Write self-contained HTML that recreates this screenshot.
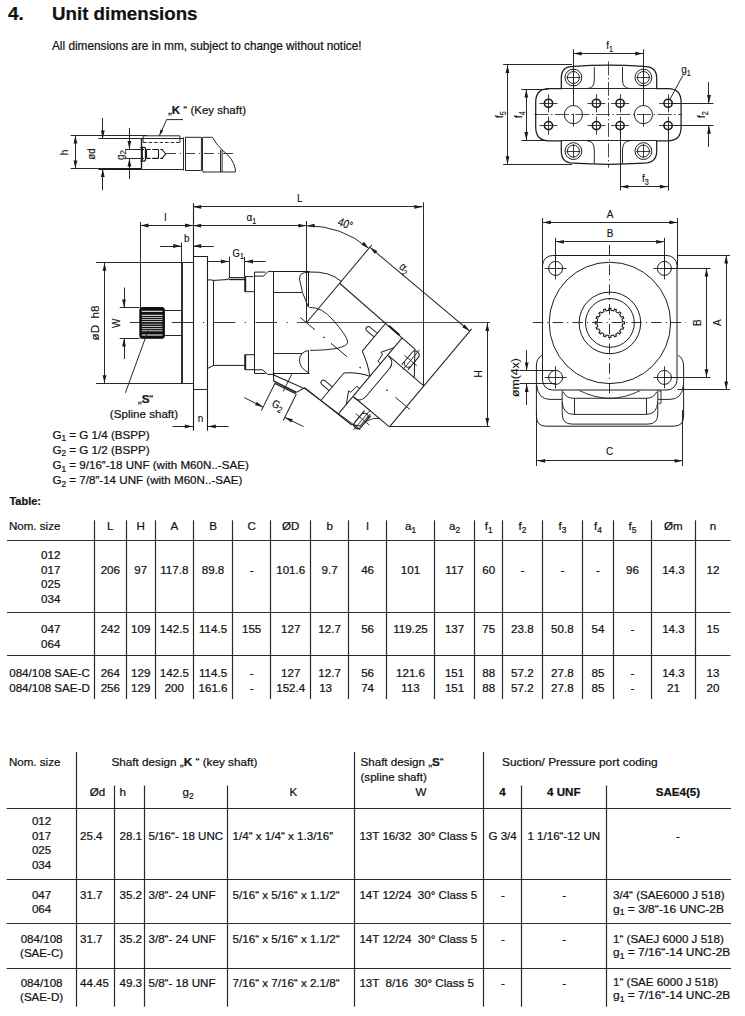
<!DOCTYPE html><html><head><meta charset="utf-8"><style>html,body{margin:0;padding:0;background:#fff;width:745px;height:1016px;overflow:hidden}svg{display:block;font-family:"Liberation Sans",sans-serif}text{white-space:pre;stroke:#111;stroke-width:0.22px}</style></head><body>
<svg width="745" height="1016" viewBox="0 0 745 1016">
<text xml:space="preserve" x="8.00" y="20.00" font-size="19" text-anchor="start" font-weight="bold" fill="#111">4.</text>
<text xml:space="preserve" x="52.00" y="20.00" font-size="19" text-anchor="start" font-weight="bold" fill="#111" textLength="145.50" lengthAdjust="spacingAndGlyphs">Unit dimensions</text>
<text xml:space="preserve" x="52.00" y="50.00" font-size="11.9" text-anchor="start" font-weight="normal" fill="#111" textLength="309.50" lengthAdjust="spacingAndGlyphs">All dimensions are in mm, subject to change without notice!</text>
<line x1="70.70" y1="135.50" x2="147.00" y2="135.50" stroke="#1c1c1c" stroke-width="0.95" />
<line x1="70.70" y1="168.50" x2="98.30" y2="168.50" stroke="#1c1c1c" stroke-width="0.95" />
<line x1="98.30" y1="169.00" x2="141.20" y2="169.00" stroke="#1c1c1c" stroke-width="1.8" />
<line x1="98.30" y1="138.50" x2="141.20" y2="138.50" stroke="#1c1c1c" stroke-width="0.95" />
<line x1="75.50" y1="135.20" x2="75.50" y2="168.80" stroke="#1c1c1c" stroke-width="0.95" />
<polygon points="75.40,135.40 77.30,143.40 73.50,143.40" fill="#1c1c1c"/>
<polygon points="75.40,168.60 73.50,160.60 77.30,160.60" fill="#1c1c1c"/>
<text xml:space="preserve" x="68.00" y="152.50" font-size="11.6" text-anchor="middle" font-weight="normal" fill="#111" transform="rotate(-90 68.00 152.50) translate(68.00 152.50) scale(0.86 1) translate(-68.00 -152.50)" style="stroke-width:0.14px">h</text>
<line x1="102.50" y1="118.00" x2="102.50" y2="138.60" stroke="#1c1c1c" stroke-width="0.95" />
<polygon points="102.80,138.40 100.90,130.40 104.70,130.40" fill="#1c1c1c"/>
<line x1="102.50" y1="168.80" x2="102.50" y2="190.30" stroke="#1c1c1c" stroke-width="0.95" />
<polygon points="102.80,169.00 104.70,177.00 100.90,177.00" fill="#1c1c1c"/>
<text xml:space="preserve" x="95.00" y="154.00" font-size="11.4" text-anchor="middle" font-weight="normal" fill="#111" transform="rotate(-90 95.00 154.00) translate(95.00 154.00) scale(0.86 1) translate(-95.00 -154.00)" style="stroke-width:0.14px">ød</text>
<line x1="141.50" y1="138.60" x2="141.50" y2="168.80" stroke="#1c1c1c" stroke-width="1.4" />
<line x1="125.10" y1="149.50" x2="144.00" y2="149.50" stroke="#1c1c1c" stroke-width="0.95" />
<line x1="125.10" y1="158.50" x2="144.00" y2="158.50" stroke="#1c1c1c" stroke-width="0.95" />
<line x1="129.50" y1="128.00" x2="129.50" y2="149.20" stroke="#1c1c1c" stroke-width="0.95" />
<polygon points="129.40,149.00 127.50,141.00 131.30,141.00" fill="#1c1c1c"/>
<line x1="129.50" y1="158.30" x2="129.50" y2="179.00" stroke="#1c1c1c" stroke-width="0.95" />
<polygon points="129.40,158.50 131.30,166.50 127.50,166.50" fill="#1c1c1c"/>
<text xml:space="preserve" x="124.00" y="155.00" font-size="11.6" text-anchor="middle" font-weight="normal" fill="#111" transform="rotate(-90 124.00 155.00) translate(124.00 155.00) scale(0.86 1) translate(-124.00 -155.00)" style="stroke-width:0.14px">g<tspan font-size="9.5" dy="2">2</tspan></text>
<path d="M140.5,147.3 L144.5,147.3 L145.5,148.5 L145.5,160 L144.5,161.2 L140.5,161.2" fill="none" stroke="#1c1c1c" stroke-width="1.3" />
<line x1="142.50" y1="147.50" x2="142.50" y2="161.00" stroke="#1c1c1c" stroke-width="0.9" />
<path d="M146.6,149.5 L150.6,149.5 M152.2,149.5 L158.6,149.5 M160.3,149.5 L163,149.5" fill="none" stroke="#1c1c1c" stroke-width="1.2" />
<path d="M146.6,158.4 L150.6,158.4 M152.2,158.4 L158.6,158.4 M160.3,158.4 L163,158.4" fill="none" stroke="#1c1c1c" stroke-width="1.2" />
<line x1="146.50" y1="149.50" x2="146.50" y2="158.40" stroke="#1c1c1c" stroke-width="1.1" />
<line x1="158.50" y1="149.50" x2="158.50" y2="158.40" stroke="#1c1c1c" stroke-width="1.1" />
<path d="M162,149.5 L165.8,153.9 L162,158.4" fill="none" stroke="#1c1c1c" stroke-width="1.1" />
<line x1="141.20" y1="138.50" x2="183.70" y2="138.50" stroke="#1c1c1c" stroke-width="0.95" />
<line x1="141.20" y1="169.50" x2="183.70" y2="169.50" stroke="#1c1c1c" stroke-width="0.95" />
<path d="M143.1,142.5 L143.1,135.8 L180,135.8 L180,142.5" fill="none" stroke="#1c1c1c" stroke-width="0.95" />
<line x1="143.10" y1="142.50" x2="180.00" y2="142.50" stroke="#1c1c1c" stroke-width="0.95" stroke-dasharray="3.5 2"/>
<polyline points="159.40,135.60 166.70,119.60 183.00,119.60" fill="none" stroke="#1c1c1c" stroke-width="0.95"/>
<polygon points="159.40,135.60 160.49,129.51 163.23,130.74" fill="#1c1c1c"/>
<text xml:space="preserve" x="168.00" y="114.00" font-size="11.8" text-anchor="start" font-weight="normal" fill="#111" textLength="78.00" lengthAdjust="spacingAndGlyphs">„<tspan font-weight="bold">K</tspan> “ (Key shaft)</text>
<line x1="183.50" y1="137.30" x2="183.50" y2="170.50" stroke="#1c1c1c" stroke-width="0.95" />
<line x1="185.50" y1="137.30" x2="185.50" y2="170.50" stroke="#1c1c1c" stroke-width="0.95" />
<path d="M185.2,137.3 L201.4,137.3 L201.4,170.5 L185.2,170.5" fill="none" stroke="#1c1c1c" stroke-width="0.95" />
<line x1="202.50" y1="137.30" x2="202.50" y2="170.50" stroke="#1c1c1c" stroke-width="0.95" />
<path d="M202.9,137.3 L212.5,137.3 Q216,144 222.1,149.9 L222.1,172 L202.9,172 L202.9,170.5" fill="none" stroke="#1c1c1c" stroke-width="0.95" />
<line x1="220.50" y1="149.90" x2="220.50" y2="172.00" stroke="#1c1c1c" stroke-width="0.95" />
<path d="M222.1,149.9 Q233,158 235.4,169 L235.4,172 L222.1,172" fill="none" stroke="#1c1c1c" stroke-width="0.95" />
<line x1="166.00" y1="153.50" x2="236.00" y2="153.50" stroke="#1c1c1c" stroke-width="0.85" stroke-dasharray="10 4 1 4"/>
<path d="M561.3,88.5 L549,88.5 Q535.7,88.5 535.7,102 L535.7,127 Q535.7,140.8 549,140.8 L561.3,140.8 L561.3,151 Q561.3,163.2 573.4,163.2 Q608.4,165.3 643.4,163.2 Q656.7,163.2 656.7,151 L656.7,140.8 L668,140.8 Q681.1,140.8 681.1,127 L681.1,102 Q681.1,88.5 668,88.5 L656.7,88.5 L656.7,78 Q656.7,66.3 643.4,66.3 Q608.4,63.7 573.4,66.3 Q561.3,66.3 561.3,78 Z" fill="none" stroke="#1c1c1c" stroke-width="1.25" />
<path d="M594.3,67 L594.3,80 Q594.3,88.5 587,88.5" fill="none" stroke="#1c1c1c" stroke-width="0.95" />
<path d="M622.5,67 L622.5,80 Q622.5,88.5 630,88.5" fill="none" stroke="#1c1c1c" stroke-width="0.95" />
<path d="M594.3,163.5 L594.3,150 Q594.3,140.8 587,140.8" fill="none" stroke="#1c1c1c" stroke-width="0.95" />
<path d="M622.5,163.5 L622.5,150 Q622.5,140.8 630,140.8" fill="none" stroke="#1c1c1c" stroke-width="0.95" />
<line x1="561.30" y1="88.50" x2="656.70" y2="88.50" stroke="#1c1c1c" stroke-width="0.95" />
<line x1="561.30" y1="140.50" x2="656.70" y2="140.50" stroke="#1c1c1c" stroke-width="0.95" />
<circle cx="573.40" cy="77.50" r="8.40" fill="none" stroke="#1c1c1c" stroke-width="1.0"/>
<circle cx="573.40" cy="77.50" r="6.00" fill="none" stroke="#1c1c1c" stroke-width="0.95"/>
<line x1="566.40" y1="77.50" x2="580.40" y2="77.50" stroke="#1c1c1c" stroke-width="0.85" />
<line x1="573.50" y1="70.50" x2="573.50" y2="84.50" stroke="#1c1c1c" stroke-width="0.85" />
<circle cx="643.40" cy="77.50" r="8.40" fill="none" stroke="#1c1c1c" stroke-width="1.0"/>
<circle cx="643.40" cy="77.50" r="6.00" fill="none" stroke="#1c1c1c" stroke-width="0.95"/>
<line x1="636.40" y1="77.50" x2="650.40" y2="77.50" stroke="#1c1c1c" stroke-width="0.85" />
<line x1="643.50" y1="70.50" x2="643.50" y2="84.50" stroke="#1c1c1c" stroke-width="0.85" />
<circle cx="573.40" cy="151.10" r="8.40" fill="none" stroke="#1c1c1c" stroke-width="1.0"/>
<circle cx="573.40" cy="151.10" r="6.00" fill="none" stroke="#1c1c1c" stroke-width="0.95"/>
<line x1="566.40" y1="151.50" x2="580.40" y2="151.50" stroke="#1c1c1c" stroke-width="0.85" />
<line x1="573.50" y1="144.10" x2="573.50" y2="158.10" stroke="#1c1c1c" stroke-width="0.85" />
<circle cx="643.40" cy="151.10" r="8.40" fill="none" stroke="#1c1c1c" stroke-width="1.0"/>
<circle cx="643.40" cy="151.10" r="6.00" fill="none" stroke="#1c1c1c" stroke-width="0.95"/>
<line x1="636.40" y1="151.50" x2="650.40" y2="151.50" stroke="#1c1c1c" stroke-width="0.85" />
<line x1="643.50" y1="144.10" x2="643.50" y2="158.10" stroke="#1c1c1c" stroke-width="0.85" />
<circle cx="573.40" cy="114.60" r="9.10" fill="none" stroke="#1c1c1c" stroke-width="0.95"/>
<circle cx="643.40" cy="114.60" r="9.10" fill="none" stroke="#1c1c1c" stroke-width="0.95"/>
<circle cx="548.50" cy="103.30" r="4.10" fill="none" stroke="#1c1c1c" stroke-width="1.6"/>
<line x1="539.50" y1="103.50" x2="557.50" y2="103.50" stroke="#1c1c1c" stroke-width="0.85" />
<line x1="548.50" y1="94.30" x2="548.50" y2="112.30" stroke="#1c1c1c" stroke-width="0.85" />
<circle cx="548.50" cy="125.60" r="4.10" fill="none" stroke="#1c1c1c" stroke-width="1.6"/>
<line x1="539.50" y1="125.50" x2="557.50" y2="125.50" stroke="#1c1c1c" stroke-width="0.85" />
<line x1="548.50" y1="116.60" x2="548.50" y2="134.60" stroke="#1c1c1c" stroke-width="0.85" />
<circle cx="596.40" cy="103.30" r="4.10" fill="none" stroke="#1c1c1c" stroke-width="1.6"/>
<line x1="587.40" y1="103.50" x2="605.40" y2="103.50" stroke="#1c1c1c" stroke-width="0.85" />
<line x1="596.50" y1="94.30" x2="596.50" y2="112.30" stroke="#1c1c1c" stroke-width="0.85" />
<circle cx="596.40" cy="125.60" r="4.10" fill="none" stroke="#1c1c1c" stroke-width="1.6"/>
<line x1="587.40" y1="125.50" x2="605.40" y2="125.50" stroke="#1c1c1c" stroke-width="0.85" />
<line x1="596.50" y1="116.60" x2="596.50" y2="134.60" stroke="#1c1c1c" stroke-width="0.85" />
<circle cx="620.10" cy="103.30" r="4.10" fill="none" stroke="#1c1c1c" stroke-width="1.6"/>
<line x1="611.10" y1="103.50" x2="629.10" y2="103.50" stroke="#1c1c1c" stroke-width="0.85" />
<line x1="620.50" y1="94.30" x2="620.50" y2="112.30" stroke="#1c1c1c" stroke-width="0.85" />
<circle cx="620.10" cy="125.60" r="4.10" fill="none" stroke="#1c1c1c" stroke-width="1.6"/>
<line x1="611.10" y1="125.50" x2="629.10" y2="125.50" stroke="#1c1c1c" stroke-width="0.85" />
<line x1="620.50" y1="116.60" x2="620.50" y2="134.60" stroke="#1c1c1c" stroke-width="0.85" />
<circle cx="668.10" cy="103.30" r="4.10" fill="none" stroke="#1c1c1c" stroke-width="1.6"/>
<line x1="659.10" y1="103.50" x2="677.10" y2="103.50" stroke="#1c1c1c" stroke-width="0.85" />
<line x1="668.50" y1="94.30" x2="668.50" y2="112.30" stroke="#1c1c1c" stroke-width="0.85" />
<circle cx="668.10" cy="125.60" r="4.10" fill="none" stroke="#1c1c1c" stroke-width="1.6"/>
<line x1="659.10" y1="125.50" x2="677.10" y2="125.50" stroke="#1c1c1c" stroke-width="0.85" />
<line x1="668.50" y1="116.60" x2="668.50" y2="134.60" stroke="#1c1c1c" stroke-width="0.85" />
<line x1="534.50" y1="114.50" x2="682.00" y2="114.50" stroke="#1c1c1c" stroke-width="0.8" stroke-dasharray="14 2.5 1.5 2.5"/>
<line x1="608.50" y1="61.40" x2="608.50" y2="167.80" stroke="#1c1c1c" stroke-width="0.8" stroke-dasharray="14 2.5 1.5 2.5"/>
<line x1="573.50" y1="49.20" x2="573.50" y2="105.50" stroke="#1c1c1c" stroke-width="0.95" />
<line x1="643.50" y1="49.20" x2="643.50" y2="105.50" stroke="#1c1c1c" stroke-width="0.95" />
<line x1="573.50" y1="113.60" x2="573.50" y2="126.60" stroke="#1c1c1c" stroke-width="0.9" />
<line x1="643.50" y1="113.60" x2="643.50" y2="126.60" stroke="#1c1c1c" stroke-width="0.9" />
<line x1="573.40" y1="53.50" x2="643.40" y2="53.50" stroke="#1c1c1c" stroke-width="0.95" />
<polygon points="573.60,53.60 581.60,51.70 581.60,55.50" fill="#1c1c1c"/>
<polygon points="643.20,53.60 635.20,55.50 635.20,51.70" fill="#1c1c1c"/>
<text xml:space="preserve" x="609.60" y="49.20" font-size="11.6" text-anchor="middle" font-weight="normal" fill="#111" transform="translate(609.60 49.20) scale(0.86 1) translate(-609.60 -49.20)" style="stroke-width:0.14px">f<tspan font-size="8.4" dy="3">1</tspan><tspan dy="-3"></tspan></text>
<line x1="503.10" y1="64.50" x2="572.00" y2="64.50" stroke="#1c1c1c" stroke-width="0.95" />
<line x1="503.10" y1="164.50" x2="572.00" y2="164.50" stroke="#1c1c1c" stroke-width="0.95" />
<line x1="507.50" y1="64.90" x2="507.50" y2="164.40" stroke="#1c1c1c" stroke-width="0.95" />
<polygon points="507.50,65.10 509.40,73.10 505.60,73.10" fill="#1c1c1c"/>
<polygon points="507.50,164.20 505.60,156.20 509.40,156.20" fill="#1c1c1c"/>
<text xml:space="preserve" x="503.00" y="114.60" font-size="11.6" text-anchor="middle" font-weight="normal" fill="#111" transform="rotate(-90 503.00 114.60) translate(503.00 114.60) scale(0.86 1) translate(-503.00 -114.60)" style="stroke-width:0.14px">f<tspan font-size="8.4" dy="3">5</tspan><tspan dy="-3"></tspan></text>
<line x1="521.40" y1="89.50" x2="548.00" y2="89.50" stroke="#1c1c1c" stroke-width="0.95" />
<line x1="521.40" y1="140.50" x2="548.00" y2="140.50" stroke="#1c1c1c" stroke-width="0.95" />
<line x1="526.50" y1="89.30" x2="526.50" y2="140.30" stroke="#1c1c1c" stroke-width="0.95" />
<polygon points="526.30,89.50 528.20,97.50 524.40,97.50" fill="#1c1c1c"/>
<polygon points="526.30,140.10 524.40,132.10 528.20,132.10" fill="#1c1c1c"/>
<text xml:space="preserve" x="522.00" y="114.60" font-size="11.6" text-anchor="middle" font-weight="normal" fill="#111" transform="rotate(-90 522.00 114.60) translate(522.00 114.60) scale(0.86 1) translate(-522.00 -114.60)" style="stroke-width:0.14px">f<tspan font-size="8.4" dy="3">4</tspan><tspan dy="-3"></tspan></text>
<line x1="672.00" y1="103.50" x2="713.40" y2="103.50" stroke="#1c1c1c" stroke-width="0.95" />
<line x1="672.00" y1="125.50" x2="713.40" y2="125.50" stroke="#1c1c1c" stroke-width="0.95" />
<line x1="708.50" y1="82.30" x2="708.50" y2="103.30" stroke="#1c1c1c" stroke-width="0.95" />
<polygon points="709.00,103.10 707.10,95.10 710.90,95.10" fill="#1c1c1c"/>
<line x1="708.50" y1="125.60" x2="708.50" y2="146.90" stroke="#1c1c1c" stroke-width="0.95" />
<polygon points="709.00,125.80 710.90,133.80 707.10,133.80" fill="#1c1c1c"/>
<text xml:space="preserve" x="705.00" y="114.60" font-size="11.6" text-anchor="middle" font-weight="normal" fill="#111" transform="rotate(-90 705.00 114.60) translate(705.00 114.60) scale(0.86 1) translate(-705.00 -114.60)" style="stroke-width:0.14px">f<tspan font-size="8.4" dy="3">2</tspan><tspan dy="-3"></tspan></text>
<line x1="620.50" y1="125.60" x2="620.50" y2="190.50" stroke="#1c1c1c" stroke-width="0.95" />
<line x1="668.50" y1="125.60" x2="668.50" y2="190.50" stroke="#1c1c1c" stroke-width="0.95" />
<line x1="620.10" y1="186.50" x2="668.10" y2="186.50" stroke="#1c1c1c" stroke-width="0.95" />
<polygon points="620.30,186.70 628.30,184.80 628.30,188.60" fill="#1c1c1c"/>
<polygon points="667.90,186.70 659.90,188.60 659.90,184.80" fill="#1c1c1c"/>
<text xml:space="preserve" x="645.40" y="181.80" font-size="11.6" text-anchor="middle" font-weight="normal" fill="#111" transform="translate(645.40 181.80) scale(0.86 1) translate(-645.40 -181.80)" style="stroke-width:0.14px">f<tspan font-size="8.4" dy="3">3</tspan><tspan dy="-3"></tspan></text>
<line x1="669.50" y1="100.00" x2="682.90" y2="75.40" stroke="#1c1c1c" stroke-width="0.95" />
<text xml:space="preserve" x="686.00" y="72.80" font-size="11.6" text-anchor="middle" font-weight="normal" fill="#111" transform="translate(686.00 72.80) scale(0.86 1) translate(-686.00 -72.80)" style="stroke-width:0.14px">g<tspan font-size="8.4" dy="3">1</tspan><tspan dy="-3"></tspan></text>
<line x1="193.50" y1="203.20" x2="193.50" y2="256.50" stroke="#1c1c1c" stroke-width="1.1" />
<line x1="193.00" y1="206.50" x2="422.50" y2="206.50" stroke="#1c1c1c" stroke-width="0.95" />
<polygon points="193.20,206.90 201.20,205.00 201.20,208.80" fill="#1c1c1c"/>
<polygon points="422.30,206.90 414.30,208.80 414.30,205.00" fill="#1c1c1c"/>
<line x1="423.50" y1="202.20" x2="423.50" y2="386.00" stroke="#1c1c1c" stroke-width="0.95" />
<text xml:space="preserve" x="299.80" y="202.20" font-size="11.6" text-anchor="middle" font-weight="normal" fill="#111" transform="translate(299.80 202.20) scale(0.86 1) translate(-299.80 -202.20)" style="stroke-width:0.14px">L</text>
<line x1="193.00" y1="225.50" x2="306.50" y2="225.50" stroke="#1c1c1c" stroke-width="0.95" />
<polygon points="193.20,225.70 201.20,223.80 201.20,227.60" fill="#1c1c1c"/>
<polygon points="306.30,225.70 298.30,227.60 298.30,223.80" fill="#1c1c1c"/>
<line x1="306.50" y1="221.00" x2="306.50" y2="322.70" stroke="#1c1c1c" stroke-width="0.95" />
<text xml:space="preserve" x="251.50" y="221.50" font-size="11.6" text-anchor="middle" font-weight="normal" fill="#111" transform="translate(251.50 221.50) scale(0.86 1) translate(-251.50 -221.50)" style="stroke-width:0.14px">α<tspan font-size="8.4" dy="3">1</tspan><tspan dy="-3"></tspan></text>
<line x1="140.50" y1="222.00" x2="140.50" y2="307.80" stroke="#1c1c1c" stroke-width="0.95" />
<line x1="140.10" y1="225.50" x2="193.00" y2="225.50" stroke="#1c1c1c" stroke-width="0.95" />
<polygon points="140.50,225.50 148.50,223.60 148.50,227.40" fill="#1c1c1c"/>
<polygon points="193.00,225.50 185.00,227.40 185.00,223.60" fill="#1c1c1c"/>
<text xml:space="preserve" x="165.40" y="221.50" font-size="11.6" text-anchor="middle" font-weight="normal" fill="#111" transform="translate(165.40 221.50) scale(0.86 1) translate(-165.40 -221.50)" style="stroke-width:0.14px">l</text>
<line x1="181.50" y1="242.60" x2="181.50" y2="262.40" stroke="#1c1c1c" stroke-width="0.95" />
<line x1="160.00" y1="246.50" x2="181.40" y2="246.50" stroke="#1c1c1c" stroke-width="0.95" />
<polygon points="181.20,246.00 173.20,247.90 173.20,244.10" fill="#1c1c1c"/>
<line x1="193.00" y1="246.50" x2="213.70" y2="246.50" stroke="#1c1c1c" stroke-width="0.95" />
<polygon points="193.20,246.00 201.20,244.10 201.20,247.90" fill="#1c1c1c"/>
<text xml:space="preserve" x="186.80" y="241.70" font-size="11.6" text-anchor="middle" font-weight="normal" fill="#111" transform="translate(186.80 241.70) scale(0.86 1) translate(-186.80 -241.70)" style="stroke-width:0.14px">b</text>
<line x1="96.00" y1="262.50" x2="193.00" y2="262.50" stroke="#1c1c1c" stroke-width="0.95" />
<line x1="96.00" y1="383.50" x2="193.00" y2="383.50" stroke="#1c1c1c" stroke-width="0.95" />
<line x1="104.50" y1="262.40" x2="104.50" y2="383.30" stroke="#1c1c1c" stroke-width="0.95" />
<polygon points="104.50,262.80 106.40,270.80 102.60,270.80" fill="#1c1c1c"/>
<polygon points="104.50,383.20 102.60,375.20 106.40,375.20" fill="#1c1c1c"/>
<text xml:space="preserve" x="99.50" y="322.90" font-size="11.6" text-anchor="middle" font-weight="normal" fill="#111" transform="rotate(-90 99.50 322.90) translate(99.50 322.90) scale(0.86 1) translate(-99.50 -322.90)" textLength="40.70" lengthAdjust="spacingAndGlyphs" style="stroke-width:0.14px">øD  h8</text>
<line x1="119.70" y1="307.50" x2="139.50" y2="307.50" stroke="#1c1c1c" stroke-width="0.95" />
<line x1="119.70" y1="338.50" x2="139.50" y2="338.50" stroke="#1c1c1c" stroke-width="0.95" />
<line x1="124.50" y1="287.50" x2="124.50" y2="307.80" stroke="#1c1c1c" stroke-width="0.95" />
<polygon points="124.00,307.60 122.10,299.60 125.90,299.60" fill="#1c1c1c"/>
<line x1="124.50" y1="338.30" x2="124.50" y2="359.00" stroke="#1c1c1c" stroke-width="0.95" />
<polygon points="124.00,338.50 125.90,346.50 122.10,346.50" fill="#1c1c1c"/>
<text xml:space="preserve" x="119.60" y="323.20" font-size="11.6" text-anchor="middle" font-weight="normal" fill="#111" transform="rotate(-90 119.60 323.20) translate(119.60 323.20) scale(0.86 1) translate(-119.60 -323.20)" style="stroke-width:0.14px">W</text>
<rect x="139.9" y="307.6" width="24.4" height="30.6" rx="2.8" fill="#111" stroke="#111" stroke-width="1.2"/>
<line x1="141.8" y1="311.3" x2="162.5" y2="311.3" stroke="#fff" stroke-width="1.0"/>
<line x1="141.8" y1="315.3" x2="162.5" y2="315.3" stroke="#fff" stroke-width="1.0"/>
<line x1="141.8" y1="317.5" x2="162.5" y2="317.5" stroke="#fff" stroke-width="0.7"/>
<line x1="141.8" y1="319.5" x2="162.5" y2="319.5" stroke="#fff" stroke-width="0.7"/>
<line x1="141.8" y1="321.6" x2="162.5" y2="321.6" stroke="#fff" stroke-width="0.8"/>
<line x1="141.8" y1="324.2" x2="162.5" y2="324.2" stroke="#999" stroke-width="1.0"/>
<line x1="141.8" y1="326.4" x2="162.5" y2="326.4" stroke="#fff" stroke-width="0.8"/>
<line x1="141.8" y1="328.6" x2="162.5" y2="328.6" stroke="#fff" stroke-width="0.7"/>
<line x1="141.8" y1="330.8" x2="162.5" y2="330.8" stroke="#fff" stroke-width="0.8"/>
<line x1="141.8" y1="335.0" x2="162.5" y2="335.0" stroke="#fff" stroke-width="1.0"/>
<line x1="164.80" y1="310.50" x2="181.40" y2="310.50" stroke="#1c1c1c" stroke-width="0.95" />
<line x1="164.80" y1="335.50" x2="181.40" y2="335.50" stroke="#1c1c1c" stroke-width="0.95" />
<line x1="148.00" y1="330.80" x2="125.40" y2="392.80" stroke="#1c1c1c" stroke-width="0.95" />
<text xml:space="preserve" x="145.50" y="402.60" font-size="11.6" text-anchor="middle" font-weight="normal" fill="#111">„<tspan font-weight="bold">S</tspan>“</text>
<text xml:space="preserve" x="144.00" y="417.60" font-size="11.6" text-anchor="middle" font-weight="normal" fill="#111">(Spline shaft)</text>
<line x1="182.00" y1="262.40" x2="182.00" y2="383.50" stroke="#1c1c1c" stroke-width="1.8" />
<path d="M193.5,256.5 L207.5,256.5 L207.5,430.7" fill="none" stroke="#1c1c1c" stroke-width="1.1" />
<line x1="193.50" y1="256.50" x2="193.50" y2="430.70" stroke="#1c1c1c" stroke-width="1.1" />
<line x1="193.00" y1="389.50" x2="207.60" y2="389.50" stroke="#1c1c1c" stroke-width="0.95" />
<line x1="172.40" y1="426.50" x2="193.00" y2="426.50" stroke="#1c1c1c" stroke-width="0.95" />
<polygon points="192.80,426.40 184.80,428.30 184.80,424.50" fill="#1c1c1c"/>
<line x1="207.60" y1="426.50" x2="228.60" y2="426.50" stroke="#1c1c1c" stroke-width="0.95" />
<polygon points="207.80,426.40 215.80,424.50 215.80,428.30" fill="#1c1c1c"/>
<text xml:space="preserve" x="200.50" y="421.60" font-size="11.6" text-anchor="middle" font-weight="normal" fill="#111" transform="translate(200.50 421.60) scale(0.86 1) translate(-200.50 -421.60)" style="stroke-width:0.14px">n</text>
<line x1="207.60" y1="261.50" x2="229.10" y2="261.50" stroke="#1c1c1c" stroke-width="0.95" />
<polygon points="228.90,261.50 220.90,263.40 220.90,259.60" fill="#1c1c1c"/>
<line x1="229.50" y1="256.70" x2="229.50" y2="277.60" stroke="#1c1c1c" stroke-width="0.95" />
<line x1="244.50" y1="257.00" x2="244.50" y2="276.60" stroke="#1c1c1c" stroke-width="0.95" />
<line x1="244.80" y1="261.50" x2="265.50" y2="261.50" stroke="#1c1c1c" stroke-width="0.95" />
<polygon points="245.00,261.50 253.00,259.60 253.00,263.40" fill="#1c1c1c"/>
<text xml:space="preserve" x="238.30" y="257.00" font-size="11" text-anchor="middle" font-weight="normal" fill="#111" transform="translate(238.30 257.00) scale(0.86 1) translate(-238.30 -257.00)" style="stroke-width:0.14px">G<tspan font-size="8.4" dy="2.5">1</tspan></text>
<path d="M207.6,280 Q210,279.5 213.8,280.4 L228,279.5 L229.1,277.6 L244.8,277.6" fill="none" stroke="#1c1c1c" stroke-width="1.0" />
<line x1="229.10" y1="279.50" x2="244.80" y2="279.50" stroke="#1c1c1c" stroke-width="1.4" />
<line x1="213.50" y1="280.40" x2="213.50" y2="366.00" stroke="#1c1c1c" stroke-width="1.0" />
<path d="M207.6,368.5 L213.5,365.4 L244.8,365.4" fill="none" stroke="#1c1c1c" stroke-width="1.0" />
<line x1="213.80" y1="366.50" x2="213.80" y2="366.50" stroke="#1c1c1c" stroke-width="1.0" />
<path d="M244.8,276.6 L253.3,276.6 M244.8,276.6 L244.8,291.7 L254.2,291.7" fill="none" stroke="#1c1c1c" stroke-width="1.0" />
<line x1="245.50" y1="277.00" x2="245.50" y2="291.50" stroke="#1c1c1c" stroke-width="1.4" />
<path d="M244.8,354.7 L254.2,354.7 M244.8,354.7 L244.8,369.7 L254.2,369.7" fill="none" stroke="#1c1c1c" stroke-width="1.0" />
<line x1="245.50" y1="355.00" x2="245.50" y2="369.50" stroke="#1c1c1c" stroke-width="1.4" />
<path d="M254.5,373.5 L254.5,272.1 L265.5,272.1" fill="none" stroke="#1c1c1c" stroke-width="1.0" />
<path d="M254.5,276.1 L263.5,276.1 L268.2,271.4 L273.2,271.4" fill="none" stroke="#1c1c1c" stroke-width="1.0" />
<path d="M254.5,373.5 L265.5,373.5" fill="none" stroke="#1c1c1c" stroke-width="1.0" />
<path d="M254.5,369.8 L262.6,369.8 L267.9,374.5 L273.2,374.3" fill="none" stroke="#1c1c1c" stroke-width="1.0" />
<line x1="273.50" y1="271.40" x2="273.50" y2="374.30" stroke="#1c1c1c" stroke-width="1.0" />
<line x1="273.20" y1="271.50" x2="309.70" y2="271.50" stroke="#1c1c1c" stroke-width="1.0" />
<line x1="273.20" y1="373.50" x2="309.70" y2="373.50" stroke="#1c1c1c" stroke-width="1.0" />
<line x1="273.60" y1="292.50" x2="302.00" y2="292.50" stroke="#1c1c1c" stroke-width="0.95" />
<line x1="273.60" y1="353.50" x2="302.00" y2="353.50" stroke="#1c1c1c" stroke-width="0.95" />
<line x1="308.50" y1="272.00" x2="308.50" y2="307.00" stroke="#1c1c1c" stroke-width="1.0" />
<line x1="308.50" y1="350.50" x2="308.50" y2="373.40" stroke="#1c1c1c" stroke-width="1.0" />
<path d="M308.4,272.5 Q299,272 299.5,279 Q301,292 308.4,307" fill="none" stroke="#1c1c1c" stroke-width="0.95" />
<path d="M308.4,350.5 Q300,352 299.5,360 Q299.5,368 308.4,372.5" fill="none" stroke="#1c1c1c" stroke-width="0.95" />
<line x1="129.90" y1="322.50" x2="297.00" y2="322.50" stroke="#1c1c1c" stroke-width="0.9" stroke-dasharray="21.5 9.6 1.2 9.6"/>
<line x1="297.00" y1="322.50" x2="490.00" y2="322.50" stroke="#1c1c1c" stroke-width="0.8" />
<path d="M306.5,225.7 A97.0,97.0 0 0 1 368.85,248.39" fill="none" stroke="#1c1c1c" stroke-width="0.95" />
<polygon points="306.70,225.70 314.66,223.64 314.74,227.44" fill="#1c1c1c"/>
<polygon points="368.85,248.39 361.50,244.71 363.94,241.80" fill="#1c1c1c"/>
<text xml:space="preserve" x="344.00" y="227.50" font-size="11.6" text-anchor="middle" font-weight="normal" fill="#111" transform="rotate(20 344.00 227.50) translate(344.00 227.50) scale(0.86 1) translate(-344.00 -227.50)" style="stroke-width:0.14px">40°</text>
<g transform="translate(306.5 322.7) rotate(40)">
<line x1="0.00" y1="0.00" x2="0.00" y2="-101.50" stroke="#1c1c1c" stroke-width="1.0" />
<line x1="130.50" y1="-101.50" x2="130.50" y2="25.80" stroke="#1c1c1c" stroke-width="1.0" />
<line x1="0.00" y1="-98.50" x2="130.50" y2="-98.50" stroke="#1c1c1c" stroke-width="0.95" />
<polygon points="0.20,-98.50 8.20,-100.40 8.20,-96.60" fill="#1c1c1c"/>
<polygon points="130.30,-98.50 122.30,-96.60 122.30,-100.40" fill="#1c1c1c"/>
<text xml:space="preserve" x="40.00" y="-101.20" font-size="11.6" text-anchor="middle" font-weight="normal" fill="#111" transform="translate(40.00 -101.20) scale(0.86 1) translate(-40.00 101.20)" style="stroke-width:0.14px">α<tspan font-size="8.4" dy="3">2</tspan><tspan dy="-3"></tspan></text>
<line x1="-8.00" y1="0.00" x2="11.00" y2="0.00" stroke="#1c1c1c" stroke-width="0.9" />
<line x1="32.00" y1="0.00" x2="53.00" y2="0.00" stroke="#1c1c1c" stroke-width="0.9" />
<line x1="116.00" y1="0.00" x2="135.00" y2="0.00" stroke="#1c1c1c" stroke-width="0.9" />
<circle cx="22.80" cy="0.00" r="0.50" fill="#1c1c1c" stroke="#1c1c1c" stroke-width="0.6"/>
<circle cx="105.00" cy="0.00" r="0.50" fill="#1c1c1c" stroke="#1c1c1c" stroke-width="0.6"/>
<circle cx="70.00" cy="0.00" r="0.50" fill="#1c1c1c" stroke="#1c1c1c" stroke-width="0.6"/>
<line x1="0.00" y1="-51.50" x2="100.00" y2="-49.50" stroke="#1c1c1c" stroke-width="1.0" />
<line x1="65.00" y1="-50.60" x2="79.00" y2="-50.30" stroke="#1c1c1c" stroke-width="2.0" />
<line x1="61.00" y1="-50.50" x2="61.00" y2="-14.00" stroke="#1c1c1c" stroke-width="1.0" />
<line x1="61.00" y1="14.50" x2="61.00" y2="50.00" stroke="#1c1c1c" stroke-width="1.0" />
<path d="M61,-37.4 L51.4,-37.4 A2.4,2.4 0 0 0 51.4,-32.6 L61,-32.6" fill="none" stroke="#1c1c1c" stroke-width="0.95" />
<path d="M61,32.6 L51.4,32.6 A2.4,2.4 0 0 0 51.4,37.4 L61,37.4" fill="none" stroke="#1c1c1c" stroke-width="0.95" />
<path d="M61,-14 Q74,-8 83,0.5" fill="none" stroke="#1c1c1c" stroke-width="0.95" />
<path d="M61,14.5 Q72,4 83,0.5" fill="none" stroke="#1c1c1c" stroke-width="0.95" />
<line x1="40.00" y1="51.00" x2="99.60" y2="49.30" stroke="#1c1c1c" stroke-width="1.0" />
<line x1="99.60" y1="49.30" x2="107.60" y2="44.50" stroke="#1c1c1c" stroke-width="1.0" />
<line x1="83.00" y1="-49.50" x2="83.00" y2="50.00" stroke="#1c1c1c" stroke-width="1.0" />
<line x1="84.00" y1="-27.50" x2="130.50" y2="-27.00" stroke="#1c1c1c" stroke-width="1.0" />
<line x1="84.00" y1="26.50" x2="130.50" y2="26.50" stroke="#1c1c1c" stroke-width="1.0" />
<path d="M84,-27 Q93,-27 93,-18 L93,18 Q93,27 84,27" fill="none" stroke="#1c1c1c" stroke-width="0.95" />
<polyline points="83.00,-16.00 79.50,-16.50 78.50,-25.00 76.00,-25.00 83.00,-37.00" fill="none" stroke="#1c1c1c" stroke-width="0.9"/>
<polyline points="83.00,16.00 79.50,16.50 78.50,25.00 76.00,25.00 83.00,37.00" fill="none" stroke="#1c1c1c" stroke-width="0.9"/>
<line x1="100.00" y1="-49.50" x2="118.00" y2="-27.00" stroke="#1c1c1c" stroke-width="1.0" />
<line x1="107.50" y1="29.00" x2="107.50" y2="45.00" stroke="#1c1c1c" stroke-width="1.0" />
<path d="M100,-29 L100,-45 Q100,-49 104,-49 Q108,-49 108,-45 L108,-29" fill="none" stroke="#1c1c1c" stroke-width="1.0" />
<path d="M100,-33 Q104,-27 108,-33" fill="none" stroke="#1c1c1c" stroke-width="0.9" />
<line x1="104.00" y1="-52.00" x2="104.00" y2="-26.00" stroke="#1c1c1c" stroke-width="0.8" />
<line x1="96.00" y1="-38.00" x2="112.00" y2="-38.00" stroke="#1c1c1c" stroke-width="0.8" />
<path d="M101,30 L101,45 Q101,49 105,49 Q109,49 109,45 L109,30" fill="none" stroke="#1c1c1c" stroke-width="1.2" />
<path d="M101,34 Q105,28 109,34" fill="none" stroke="#1c1c1c" stroke-width="0.9" />
<line x1="105.00" y1="26.00" x2="105.00" y2="52.00" stroke="#1c1c1c" stroke-width="0.8" />
<line x1="96.00" y1="38.00" x2="114.00" y2="38.00" stroke="#1c1c1c" stroke-width="0.8" />
</g>
<path d="M366.2,421.2 Q374,417 380.1,418.5" fill="none" stroke="#1c1c1c" stroke-width="0.9" />
<path d="M308.4,272 Q330,271 341.3,281.5" fill="none" stroke="#1c1c1c" stroke-width="1.0" />
<path d="M309.3,307.4 Q322,307 333,320 Q348,337 347.7,342.3 Q346,350 310.1,350.4" fill="none" stroke="#1c1c1c" stroke-width="0.95" />
<g transform="translate(273.8 381.1) rotate(26.5)">
<path d="M-3.9,-6.7 L-2.1,-5.5 L30,-7 L25.3,0" fill="none" stroke="#1c1c1c" stroke-width="1.0" />
<line x1="0.00" y1="0.00" x2="25.30" y2="0.00" stroke="#1c1c1c" stroke-width="1.6" />
<line x1="1.50" y1="1.60" x2="25.30" y2="1.40" stroke="#1c1c1c" stroke-width="1.2" />
<line x1="-3.90" y1="-6.70" x2="0.00" y2="0.00" stroke="#1c1c1c" stroke-width="1.0" />
<line x1="2.00" y1="2.00" x2="2.00" y2="32.00" stroke="#1c1c1c" stroke-width="0.95" />
<line x1="26.00" y1="1.50" x2="26.00" y2="31.00" stroke="#1c1c1c" stroke-width="0.95" />
<line x1="-19.00" y1="28.00" x2="2.00" y2="28.00" stroke="#1c1c1c" stroke-width="0.95" />
<polygon points="2.00,28.00 -6.00,29.90 -6.00,26.10" fill="#1c1c1c"/>
<line x1="47.00" y1="27.50" x2="26.00" y2="27.50" stroke="#1c1c1c" stroke-width="0.95" />
<polygon points="26.00,27.50 34.00,25.60 34.00,29.40" fill="#1c1c1c"/>
<line x1="13.00" y1="-15.00" x2="13.00" y2="5.00" stroke="#1c1c1c" stroke-width="0.8" />
<text xml:space="preserve" x="14.50" y="23.50" font-size="11.2" text-anchor="middle" font-weight="normal" fill="#111" transform="translate(14.50 23.50) scale(0.86 1) translate(-14.50 -23.50)" style="stroke-width:0.14px">G<tspan font-size="8.6" dy="2.5">2</tspan></text>
</g>
<path d="M303.9,388.1 L360.5,429.8" fill="none" stroke="#1c1c1c" stroke-width="1.0" />
<line x1="389.40" y1="426.50" x2="490.00" y2="426.50" stroke="#1c1c1c" stroke-width="0.95" />
<line x1="487.50" y1="322.70" x2="487.50" y2="426.30" stroke="#1c1c1c" stroke-width="0.95" />
<polygon points="487.30,322.90 489.20,330.90 485.40,330.90" fill="#1c1c1c"/>
<polygon points="487.30,426.10 485.40,418.10 489.20,418.10" fill="#1c1c1c"/>
<text xml:space="preserve" x="482.00" y="374.00" font-size="11.6" text-anchor="middle" font-weight="normal" fill="#111" transform="rotate(-90 482.00 374.00) translate(482.00 374.00) scale(0.86 1) translate(-482.00 -374.00)" style="stroke-width:0.14px">H</text>
<text xml:space="preserve" x="52.40" y="438.50" font-size="11.6" text-anchor="start" font-weight="normal" fill="#111">G<tspan font-size="8.4" dy="2.5">1</tspan><tspan dy="-2.5"> = G 1/4 (BSPP)</tspan></text>
<text xml:space="preserve" x="52.40" y="453.80" font-size="11.6" text-anchor="start" font-weight="normal" fill="#111">G<tspan font-size="8.4" dy="2.5">2</tspan><tspan dy="-2.5"> = G 1/2 (BSPP)</tspan></text>
<text xml:space="preserve" x="52.40" y="469.10" font-size="11.6" text-anchor="start" font-weight="normal" fill="#111">G<tspan font-size="8.4" dy="2.5">1</tspan><tspan dy="-2.5"> = 9/16”-18 UNF (with M60N..-SAE)</tspan></text>
<text xml:space="preserve" x="52.40" y="484.40" font-size="11.6" text-anchor="start" font-weight="normal" fill="#111">G<tspan font-size="8.4" dy="2.5">2</tspan><tspan dy="-2.5"> = 7/8”-14 UNF (with M60N..-SAE)</tspan></text>
<path d="M541.8,355.4 Q536.4,358 536.4,366 L536.4,416 Q536.4,426.2 546.1,426.2 L673.9,426.2 Q683.6,426.2 683.6,416 L683.6,366 Q683.6,358 678.2,355.4" fill="none" stroke="#1c1c1c" stroke-width="1.0" />
<path d="M536.6,385 Q538,399.4 550,399.4 L562.2,399.4 M683.4,385 Q682,399.4 670,399.4 L657.8,399.4" fill="none" stroke="#1c1c1c" stroke-width="0.95" />
<path d="M562.2,390.2 L562.2,414 Q562.2,424.1 572,424.1 L648,424.1 Q657.8,424.1 657.8,414 L657.8,390.2" fill="none" stroke="#1c1c1c" stroke-width="0.95" />
<path d="M562.2,402 Q563,414.4 574,414.4 L646,414.4 Q657,414.4 657.8,402" fill="none" stroke="#1c1c1c" stroke-width="0.95" />
<path d="M563.3,391.9 Q566,398.3 574,398.3 L646,398.3 Q654,398.3 656.7,391.9" fill="none" stroke="#1c1c1c" stroke-width="0.95" />
<line x1="574.50" y1="398.30" x2="574.50" y2="414.40" stroke="#1c1c1c" stroke-width="0.95" />
<line x1="646.50" y1="398.30" x2="646.50" y2="414.40" stroke="#1c1c1c" stroke-width="0.95" />
<path d="M579.4,390.5 Q609.9,406 640.4,390.5" fill="none" stroke="#1c1c1c" stroke-width="0.9" />
<path d="M659,391 L661,391 L661,403 L659,404" fill="none" stroke="#1c1c1c" stroke-width="0.9" />
<rect x="542.5" y="255.5" width="134.5" height="134.5" rx="10" fill="#fff" stroke="#1c1c1c" stroke-width="1.0"/>
<circle cx="609.90" cy="322.90" r="60.70" fill="none" stroke="#1c1c1c" stroke-width="1.0"/>
<circle cx="609.90" cy="322.90" r="30.80" fill="none" stroke="#1c1c1c" stroke-width="1.0"/>
<circle cx="609.90" cy="322.90" r="24.40" fill="none" stroke="#1c1c1c" stroke-width="1.0"/>
<path d="M622.55,321.76 L624.46,321.88 L624.46,323.92 L622.55,324.04 L622.02,326.69 L623.75,327.53 L622.96,329.42 L621.15,328.79 L619.65,331.04 L620.92,332.48 L619.48,333.92 L618.04,332.65 L615.79,334.15 L616.42,335.96 L614.53,336.75 L613.69,335.02 L611.04,335.55 L610.92,337.46 L608.88,337.46 L608.76,335.55 L606.11,335.02 L605.27,336.75 L603.38,335.96 L604.01,334.15 L601.76,332.65 L600.32,333.92 L598.88,332.48 L600.15,331.04 L598.65,328.79 L596.84,329.42 L596.05,327.53 L597.78,326.69 L597.25,324.04 L595.34,323.92 L595.34,321.88 L597.25,321.76 L597.78,319.11 L596.05,318.27 L596.84,316.38 L598.65,317.01 L600.15,314.76 L598.88,313.32 L600.32,311.88 L601.76,313.15 L604.01,311.65 L603.38,309.84 L605.27,309.05 L606.11,310.78 L608.76,310.25 L608.88,308.34 L610.92,308.34 L611.04,310.25 L613.69,310.78 L614.53,309.05 L616.42,309.84 L615.79,311.65 L618.04,313.15 L619.48,311.88 L620.92,313.32 L619.65,314.76 L621.15,317.01 L622.96,316.38 L623.75,318.27 L622.02,319.11Z" fill="none" stroke="#1c1c1c" stroke-width="1.1" />
<circle cx="555.60" cy="268.40" r="7.00" fill="none" stroke="#1c1c1c" stroke-width="1.0"/>
<line x1="544.60" y1="268.50" x2="566.60" y2="268.50" stroke="#1c1c1c" stroke-width="0.9" />
<line x1="555.50" y1="257.40" x2="555.50" y2="279.40" stroke="#1c1c1c" stroke-width="0.9" />
<circle cx="664.40" cy="268.40" r="7.00" fill="none" stroke="#1c1c1c" stroke-width="1.0"/>
<line x1="653.40" y1="268.50" x2="675.40" y2="268.50" stroke="#1c1c1c" stroke-width="0.9" />
<line x1="664.50" y1="257.40" x2="664.50" y2="279.40" stroke="#1c1c1c" stroke-width="0.9" />
<circle cx="555.60" cy="377.40" r="7.00" fill="none" stroke="#1c1c1c" stroke-width="1.0"/>
<line x1="544.60" y1="377.50" x2="566.60" y2="377.50" stroke="#1c1c1c" stroke-width="0.9" />
<line x1="555.50" y1="366.40" x2="555.50" y2="388.40" stroke="#1c1c1c" stroke-width="0.9" />
<circle cx="664.40" cy="377.40" r="7.00" fill="none" stroke="#1c1c1c" stroke-width="1.0"/>
<line x1="653.40" y1="377.50" x2="675.40" y2="377.50" stroke="#1c1c1c" stroke-width="0.9" />
<line x1="664.50" y1="366.40" x2="664.50" y2="388.40" stroke="#1c1c1c" stroke-width="0.9" />
<line x1="532.90" y1="322.50" x2="685.80" y2="322.50" stroke="#1c1c1c" stroke-width="0.9" stroke-dasharray="10.5 4 1.2 4"/>
<line x1="609.50" y1="245.00" x2="609.50" y2="400.00" stroke="#1c1c1c" stroke-width="0.9" stroke-dasharray="10.5 4 1.2 4"/>
<line x1="542.50" y1="218.00" x2="542.50" y2="268.00" stroke="#1c1c1c" stroke-width="0.95" />
<line x1="677.50" y1="218.00" x2="677.50" y2="268.00" stroke="#1c1c1c" stroke-width="0.95" />
<line x1="542.70" y1="222.50" x2="677.60" y2="222.50" stroke="#1c1c1c" stroke-width="0.95" />
<polygon points="542.90,222.40 550.90,220.50 550.90,224.30" fill="#1c1c1c"/>
<polygon points="677.40,222.40 669.40,224.30 669.40,220.50" fill="#1c1c1c"/>
<text xml:space="preserve" x="610.20" y="218.00" font-size="11.6" text-anchor="middle" font-weight="normal" fill="#111" transform="translate(610.20 218.00) scale(0.86 1) translate(-610.20 -218.00)" style="stroke-width:0.14px">A</text>
<line x1="555.50" y1="237.80" x2="555.50" y2="268.40" stroke="#1c1c1c" stroke-width="0.95" />
<line x1="664.50" y1="237.80" x2="664.50" y2="268.40" stroke="#1c1c1c" stroke-width="0.95" />
<line x1="555.60" y1="241.50" x2="664.40" y2="241.50" stroke="#1c1c1c" stroke-width="0.95" />
<polygon points="555.80,241.80 563.80,239.90 563.80,243.70" fill="#1c1c1c"/>
<polygon points="664.20,241.80 656.20,243.70 656.20,239.90" fill="#1c1c1c"/>
<text xml:space="preserve" x="610.00" y="236.80" font-size="11.6" text-anchor="middle" font-weight="normal" fill="#111" transform="translate(610.00 236.80) scale(0.86 1) translate(-610.00 -236.80)" style="stroke-width:0.14px">B</text>
<line x1="664.40" y1="268.50" x2="710.50" y2="268.50" stroke="#1c1c1c" stroke-width="0.95" />
<line x1="664.40" y1="377.50" x2="710.50" y2="377.50" stroke="#1c1c1c" stroke-width="0.95" />
<line x1="706.50" y1="268.40" x2="706.50" y2="377.40" stroke="#1c1c1c" stroke-width="0.95" />
<polygon points="706.50,268.60 708.40,276.60 704.60,276.60" fill="#1c1c1c"/>
<polygon points="706.50,377.20 704.60,369.20 708.40,369.20" fill="#1c1c1c"/>
<text xml:space="preserve" x="701.50" y="322.70" font-size="11.6" text-anchor="middle" font-weight="normal" fill="#111" transform="rotate(-90 701.50 322.70) translate(701.50 322.70) scale(0.86 1) translate(-701.50 -322.70)" style="stroke-width:0.14px">B</text>
<line x1="677.60" y1="255.50" x2="730.00" y2="255.50" stroke="#1c1c1c" stroke-width="0.95" />
<line x1="677.60" y1="389.50" x2="730.00" y2="389.50" stroke="#1c1c1c" stroke-width="0.95" />
<line x1="726.50" y1="255.40" x2="726.50" y2="389.70" stroke="#1c1c1c" stroke-width="0.95" />
<polygon points="726.20,255.60 728.10,263.60 724.30,263.60" fill="#1c1c1c"/>
<polygon points="726.20,389.50 724.30,381.50 728.10,381.50" fill="#1c1c1c"/>
<text xml:space="preserve" x="721.50" y="322.70" font-size="11.6" text-anchor="middle" font-weight="normal" fill="#111" transform="rotate(-90 721.50 322.70) translate(721.50 322.70) scale(0.86 1) translate(-721.50 -322.70)" style="stroke-width:0.14px">A</text>
<line x1="536.50" y1="410.00" x2="536.50" y2="466.00" stroke="#1c1c1c" stroke-width="0.95" />
<line x1="682.50" y1="410.00" x2="682.50" y2="466.00" stroke="#1c1c1c" stroke-width="0.95" />
<line x1="536.90" y1="460.50" x2="682.80" y2="460.50" stroke="#1c1c1c" stroke-width="0.95" />
<polygon points="537.10,460.80 545.10,458.90 545.10,462.70" fill="#1c1c1c"/>
<polygon points="682.60,460.80 674.60,462.70 674.60,458.90" fill="#1c1c1c"/>
<text xml:space="preserve" x="609.60" y="455.30" font-size="11.6" text-anchor="middle" font-weight="normal" fill="#111" transform="translate(609.60 455.30) scale(0.86 1) translate(-609.60 -455.30)" style="stroke-width:0.14px">C</text>
<line x1="519.70" y1="370.50" x2="555.00" y2="370.50" stroke="#1c1c1c" stroke-width="0.95" />
<line x1="519.70" y1="383.50" x2="555.00" y2="383.50" stroke="#1c1c1c" stroke-width="0.95" />
<line x1="526.50" y1="350.20" x2="526.50" y2="370.60" stroke="#1c1c1c" stroke-width="0.95" />
<polygon points="526.70,370.40 524.80,362.40 528.60,362.40" fill="#1c1c1c"/>
<line x1="526.50" y1="383.90" x2="526.50" y2="405.00" stroke="#1c1c1c" stroke-width="0.95" />
<polygon points="526.70,384.10 528.60,392.10 524.80,392.10" fill="#1c1c1c"/>
<text xml:space="preserve" x="519.50" y="377.60" font-size="11.6" text-anchor="middle" font-weight="normal" fill="#111" transform="rotate(-90 519.50 377.60) translate(519.50 377.60) scale(0.86 1) translate(-519.50 -377.60)" textLength="45.35" lengthAdjust="spacingAndGlyphs" style="stroke-width:0.14px">øm(4x)</text>
<text xml:space="preserve" x="9.40" y="504.80" font-size="11" text-anchor="start" font-weight="bold" fill="#111">Table:</text>
<line x1="94.50" y1="520.30" x2="94.50" y2="699.00" stroke="#2a2a2a" stroke-width="1.2" />
<line x1="126.50" y1="520.30" x2="126.50" y2="699.00" stroke="#2a2a2a" stroke-width="1.2" />
<line x1="155.50" y1="520.30" x2="155.50" y2="699.00" stroke="#2a2a2a" stroke-width="1.2" />
<line x1="193.50" y1="520.30" x2="193.50" y2="699.00" stroke="#2a2a2a" stroke-width="1.2" />
<line x1="232.50" y1="520.30" x2="232.50" y2="699.00" stroke="#2a2a2a" stroke-width="1.2" />
<line x1="270.50" y1="520.30" x2="270.50" y2="699.00" stroke="#2a2a2a" stroke-width="1.2" />
<line x1="310.50" y1="520.30" x2="310.50" y2="699.00" stroke="#2a2a2a" stroke-width="1.2" />
<line x1="348.50" y1="520.30" x2="348.50" y2="699.00" stroke="#2a2a2a" stroke-width="1.2" />
<line x1="386.50" y1="520.30" x2="386.50" y2="699.00" stroke="#2a2a2a" stroke-width="1.2" />
<line x1="434.50" y1="520.30" x2="434.50" y2="699.00" stroke="#2a2a2a" stroke-width="1.2" />
<line x1="474.50" y1="520.30" x2="474.50" y2="699.00" stroke="#2a2a2a" stroke-width="1.2" />
<line x1="502.50" y1="520.30" x2="502.50" y2="699.00" stroke="#2a2a2a" stroke-width="1.2" />
<line x1="542.50" y1="520.30" x2="542.50" y2="699.00" stroke="#2a2a2a" stroke-width="1.2" />
<line x1="582.50" y1="520.30" x2="582.50" y2="699.00" stroke="#2a2a2a" stroke-width="1.2" />
<line x1="613.50" y1="520.30" x2="613.50" y2="699.00" stroke="#2a2a2a" stroke-width="1.2" />
<line x1="651.50" y1="520.30" x2="651.50" y2="699.00" stroke="#2a2a2a" stroke-width="1.2" />
<line x1="695.50" y1="520.30" x2="695.50" y2="699.00" stroke="#2a2a2a" stroke-width="1.2" />
<line x1="7.00" y1="540.50" x2="730.50" y2="540.50" stroke="#2a2a2a" stroke-width="1.2" />
<line x1="7.00" y1="612.50" x2="730.50" y2="612.50" stroke="#2a2a2a" stroke-width="1.2" />
<line x1="7.00" y1="655.50" x2="730.50" y2="655.50" stroke="#2a2a2a" stroke-width="1.2" />
<text xml:space="preserve" x="8.90" y="529.70" font-size="11.6" text-anchor="start" font-weight="normal" fill="#111">Nom. size</text>
<text xml:space="preserve" x="110.35" y="529.70" font-size="11.6" text-anchor="middle" font-weight="normal" fill="#111">L</text>
<text xml:space="preserve" x="140.70" y="529.70" font-size="11.6" text-anchor="middle" font-weight="normal" fill="#111">H</text>
<text xml:space="preserve" x="174.35" y="529.70" font-size="11.6" text-anchor="middle" font-weight="normal" fill="#111">A</text>
<text xml:space="preserve" x="213.05" y="529.70" font-size="11.6" text-anchor="middle" font-weight="normal" fill="#111">B</text>
<text xml:space="preserve" x="251.65" y="529.70" font-size="11.6" text-anchor="middle" font-weight="normal" fill="#111">C</text>
<text xml:space="preserve" x="290.70" y="529.70" font-size="11.6" text-anchor="middle" font-weight="normal" fill="#111">ØD</text>
<text xml:space="preserve" x="329.65" y="529.70" font-size="11.6" text-anchor="middle" font-weight="normal" fill="#111">b</text>
<text xml:space="preserve" x="367.60" y="529.70" font-size="11.6" text-anchor="middle" font-weight="normal" fill="#111">l</text>
<text xml:space="preserve" x="410.50" y="529.70" font-size="11.6" text-anchor="middle" font-weight="normal" fill="#111">a<tspan font-size="8.4" dy="3">1</tspan><tspan dy="-3"></tspan></text>
<text xml:space="preserve" x="454.55" y="529.70" font-size="11.6" text-anchor="middle" font-weight="normal" fill="#111">a<tspan font-size="8.4" dy="3">2</tspan><tspan dy="-3"></tspan></text>
<text xml:space="preserve" x="488.65" y="529.70" font-size="11.6" text-anchor="middle" font-weight="normal" fill="#111">f<tspan font-size="8.4" dy="3">1</tspan><tspan dy="-3"></tspan></text>
<text xml:space="preserve" x="522.35" y="529.70" font-size="11.6" text-anchor="middle" font-weight="normal" fill="#111">f<tspan font-size="8.4" dy="3">2</tspan><tspan dy="-3"></tspan></text>
<text xml:space="preserve" x="562.35" y="529.70" font-size="11.6" text-anchor="middle" font-weight="normal" fill="#111">f<tspan font-size="8.4" dy="3">3</tspan><tspan dy="-3"></tspan></text>
<text xml:space="preserve" x="598.05" y="529.70" font-size="11.6" text-anchor="middle" font-weight="normal" fill="#111">f<tspan font-size="8.4" dy="3">4</tspan><tspan dy="-3"></tspan></text>
<text xml:space="preserve" x="632.55" y="529.70" font-size="11.6" text-anchor="middle" font-weight="normal" fill="#111">f<tspan font-size="8.4" dy="3">5</tspan><tspan dy="-3"></tspan></text>
<text xml:space="preserve" x="673.45" y="529.70" font-size="11.6" text-anchor="middle" font-weight="normal" fill="#111">Øm</text>
<text xml:space="preserve" x="712.90" y="529.70" font-size="11.6" text-anchor="middle" font-weight="normal" fill="#111">n</text>
<text xml:space="preserve" x="50.75" y="559.00" font-size="11.6" text-anchor="middle" font-weight="normal" fill="#111">012</text>
<text xml:space="preserve" x="50.75" y="573.60" font-size="11.6" text-anchor="middle" font-weight="normal" fill="#111">017</text>
<text xml:space="preserve" x="50.75" y="588.20" font-size="11.6" text-anchor="middle" font-weight="normal" fill="#111">025</text>
<text xml:space="preserve" x="50.75" y="602.80" font-size="11.6" text-anchor="middle" font-weight="normal" fill="#111">034</text>
<text xml:space="preserve" x="110.35" y="573.80" font-size="11.6" text-anchor="middle" font-weight="normal" fill="#111">206</text>
<text xml:space="preserve" x="140.70" y="573.80" font-size="11.6" text-anchor="middle" font-weight="normal" fill="#111">97</text>
<text xml:space="preserve" x="174.35" y="573.80" font-size="11.6" text-anchor="middle" font-weight="normal" fill="#111">117.8</text>
<text xml:space="preserve" x="213.05" y="573.80" font-size="11.6" text-anchor="middle" font-weight="normal" fill="#111">89.8</text>
<text xml:space="preserve" x="251.65" y="573.80" font-size="11.6" text-anchor="middle" font-weight="normal" fill="#111">-</text>
<text xml:space="preserve" x="290.70" y="573.80" font-size="11.6" text-anchor="middle" font-weight="normal" fill="#111">101.6</text>
<text xml:space="preserve" x="329.65" y="573.80" font-size="11.6" text-anchor="middle" font-weight="normal" fill="#111">9.7</text>
<text xml:space="preserve" x="367.60" y="573.80" font-size="11.6" text-anchor="middle" font-weight="normal" fill="#111">46</text>
<text xml:space="preserve" x="410.50" y="573.80" font-size="11.6" text-anchor="middle" font-weight="normal" fill="#111">101</text>
<text xml:space="preserve" x="454.55" y="573.80" font-size="11.6" text-anchor="middle" font-weight="normal" fill="#111">117</text>
<text xml:space="preserve" x="488.65" y="573.80" font-size="11.6" text-anchor="middle" font-weight="normal" fill="#111">60</text>
<text xml:space="preserve" x="522.35" y="573.80" font-size="11.6" text-anchor="middle" font-weight="normal" fill="#111">-</text>
<text xml:space="preserve" x="562.35" y="573.80" font-size="11.6" text-anchor="middle" font-weight="normal" fill="#111">-</text>
<text xml:space="preserve" x="598.05" y="573.80" font-size="11.6" text-anchor="middle" font-weight="normal" fill="#111">-</text>
<text xml:space="preserve" x="632.55" y="573.80" font-size="11.6" text-anchor="middle" font-weight="normal" fill="#111">96</text>
<text xml:space="preserve" x="673.45" y="573.80" font-size="11.6" text-anchor="middle" font-weight="normal" fill="#111">14.3</text>
<text xml:space="preserve" x="712.90" y="573.80" font-size="11.6" text-anchor="middle" font-weight="normal" fill="#111">12</text>
<text xml:space="preserve" x="50.75" y="632.70" font-size="11.6" text-anchor="middle" font-weight="normal" fill="#111">047</text>
<text xml:space="preserve" x="50.75" y="647.80" font-size="11.6" text-anchor="middle" font-weight="normal" fill="#111">064</text>
<text xml:space="preserve" x="110.35" y="632.70" font-size="11.6" text-anchor="middle" font-weight="normal" fill="#111">242</text>
<text xml:space="preserve" x="140.70" y="632.70" font-size="11.6" text-anchor="middle" font-weight="normal" fill="#111">109</text>
<text xml:space="preserve" x="174.35" y="632.70" font-size="11.6" text-anchor="middle" font-weight="normal" fill="#111">142.5</text>
<text xml:space="preserve" x="213.05" y="632.70" font-size="11.6" text-anchor="middle" font-weight="normal" fill="#111">114.5</text>
<text xml:space="preserve" x="251.65" y="632.70" font-size="11.6" text-anchor="middle" font-weight="normal" fill="#111">155</text>
<text xml:space="preserve" x="290.70" y="632.70" font-size="11.6" text-anchor="middle" font-weight="normal" fill="#111">127</text>
<text xml:space="preserve" x="329.65" y="632.70" font-size="11.6" text-anchor="middle" font-weight="normal" fill="#111">12.7</text>
<text xml:space="preserve" x="367.60" y="632.70" font-size="11.6" text-anchor="middle" font-weight="normal" fill="#111">56</text>
<text xml:space="preserve" x="410.50" y="632.70" font-size="11.6" text-anchor="middle" font-weight="normal" fill="#111">119.25</text>
<text xml:space="preserve" x="454.55" y="632.70" font-size="11.6" text-anchor="middle" font-weight="normal" fill="#111">137</text>
<text xml:space="preserve" x="488.65" y="632.70" font-size="11.6" text-anchor="middle" font-weight="normal" fill="#111">75</text>
<text xml:space="preserve" x="522.35" y="632.70" font-size="11.6" text-anchor="middle" font-weight="normal" fill="#111">23.8</text>
<text xml:space="preserve" x="562.35" y="632.70" font-size="11.6" text-anchor="middle" font-weight="normal" fill="#111">50.8</text>
<text xml:space="preserve" x="598.05" y="632.70" font-size="11.6" text-anchor="middle" font-weight="normal" fill="#111">54</text>
<text xml:space="preserve" x="632.55" y="632.70" font-size="11.6" text-anchor="middle" font-weight="normal" fill="#111">-</text>
<text xml:space="preserve" x="673.45" y="632.70" font-size="11.6" text-anchor="middle" font-weight="normal" fill="#111">14.3</text>
<text xml:space="preserve" x="712.90" y="632.70" font-size="11.6" text-anchor="middle" font-weight="normal" fill="#111">15</text>
<text xml:space="preserve" x="49.50" y="676.50" font-size="11.6" text-anchor="middle" font-weight="normal" fill="#111">084/108 SAE-C</text>
<text xml:space="preserve" x="49.50" y="691.80" font-size="11.6" text-anchor="middle" font-weight="normal" fill="#111">084/108 SAE-D</text>
<text xml:space="preserve" x="110.35" y="676.50" font-size="11.6" text-anchor="middle" font-weight="normal" fill="#111">264</text>
<text xml:space="preserve" x="140.70" y="676.50" font-size="11.6" text-anchor="middle" font-weight="normal" fill="#111">129</text>
<text xml:space="preserve" x="174.35" y="676.50" font-size="11.6" text-anchor="middle" font-weight="normal" fill="#111">142.5</text>
<text xml:space="preserve" x="213.05" y="676.50" font-size="11.6" text-anchor="middle" font-weight="normal" fill="#111">114.5</text>
<text xml:space="preserve" x="251.65" y="676.50" font-size="11.6" text-anchor="middle" font-weight="normal" fill="#111">-</text>
<text xml:space="preserve" x="290.70" y="676.50" font-size="11.6" text-anchor="middle" font-weight="normal" fill="#111">127</text>
<text xml:space="preserve" x="329.65" y="676.50" font-size="11.6" text-anchor="middle" font-weight="normal" fill="#111">12.7</text>
<text xml:space="preserve" x="367.60" y="676.50" font-size="11.6" text-anchor="middle" font-weight="normal" fill="#111">56</text>
<text xml:space="preserve" x="410.50" y="676.50" font-size="11.6" text-anchor="middle" font-weight="normal" fill="#111">121.6</text>
<text xml:space="preserve" x="454.55" y="676.50" font-size="11.6" text-anchor="middle" font-weight="normal" fill="#111">151</text>
<text xml:space="preserve" x="488.65" y="676.50" font-size="11.6" text-anchor="middle" font-weight="normal" fill="#111">88</text>
<text xml:space="preserve" x="522.35" y="676.50" font-size="11.6" text-anchor="middle" font-weight="normal" fill="#111">57.2</text>
<text xml:space="preserve" x="562.35" y="676.50" font-size="11.6" text-anchor="middle" font-weight="normal" fill="#111">27.8</text>
<text xml:space="preserve" x="598.05" y="676.50" font-size="11.6" text-anchor="middle" font-weight="normal" fill="#111">85</text>
<text xml:space="preserve" x="632.55" y="676.50" font-size="11.6" text-anchor="middle" font-weight="normal" fill="#111">-</text>
<text xml:space="preserve" x="673.45" y="676.50" font-size="11.6" text-anchor="middle" font-weight="normal" fill="#111">14.3</text>
<text xml:space="preserve" x="712.90" y="676.50" font-size="11.6" text-anchor="middle" font-weight="normal" fill="#111">13</text>
<text xml:space="preserve" x="110.35" y="691.80" font-size="11.6" text-anchor="middle" font-weight="normal" fill="#111">256</text>
<text xml:space="preserve" x="140.70" y="691.80" font-size="11.6" text-anchor="middle" font-weight="normal" fill="#111">129</text>
<text xml:space="preserve" x="174.35" y="691.80" font-size="11.6" text-anchor="middle" font-weight="normal" fill="#111">200</text>
<text xml:space="preserve" x="213.05" y="691.80" font-size="11.6" text-anchor="middle" font-weight="normal" fill="#111">161.6</text>
<text xml:space="preserve" x="251.65" y="691.80" font-size="11.6" text-anchor="middle" font-weight="normal" fill="#111">-</text>
<text xml:space="preserve" x="290.70" y="691.80" font-size="11.6" text-anchor="middle" font-weight="normal" fill="#111">152.4</text>
<text xml:space="preserve" x="319.15" y="691.80" font-size="11.6" text-anchor="start" font-weight="normal" fill="#111">13</text>
<text xml:space="preserve" x="367.60" y="691.80" font-size="11.6" text-anchor="middle" font-weight="normal" fill="#111">74</text>
<text xml:space="preserve" x="410.50" y="691.80" font-size="11.6" text-anchor="middle" font-weight="normal" fill="#111">113</text>
<text xml:space="preserve" x="454.55" y="691.80" font-size="11.6" text-anchor="middle" font-weight="normal" fill="#111">151</text>
<text xml:space="preserve" x="488.65" y="691.80" font-size="11.6" text-anchor="middle" font-weight="normal" fill="#111">88</text>
<text xml:space="preserve" x="522.35" y="691.80" font-size="11.6" text-anchor="middle" font-weight="normal" fill="#111">57.2</text>
<text xml:space="preserve" x="562.35" y="691.80" font-size="11.6" text-anchor="middle" font-weight="normal" fill="#111">27.8</text>
<text xml:space="preserve" x="598.05" y="691.80" font-size="11.6" text-anchor="middle" font-weight="normal" fill="#111">85</text>
<text xml:space="preserve" x="632.55" y="691.80" font-size="11.6" text-anchor="middle" font-weight="normal" fill="#111">-</text>
<text xml:space="preserve" x="673.45" y="691.80" font-size="11.6" text-anchor="middle" font-weight="normal" fill="#111">21</text>
<text xml:space="preserve" x="712.90" y="691.80" font-size="11.6" text-anchor="middle" font-weight="normal" fill="#111">20</text>
<line x1="76.50" y1="752.00" x2="76.50" y2="1006.70" stroke="#2a2a2a" stroke-width="1.2" />
<line x1="354.50" y1="752.00" x2="354.50" y2="1006.70" stroke="#2a2a2a" stroke-width="1.2" />
<line x1="483.50" y1="752.00" x2="483.50" y2="1006.70" stroke="#2a2a2a" stroke-width="1.2" />
<line x1="114.50" y1="785.60" x2="114.50" y2="1006.70" stroke="#2a2a2a" stroke-width="1.2" />
<line x1="144.50" y1="785.60" x2="144.50" y2="1006.70" stroke="#2a2a2a" stroke-width="1.2" />
<line x1="227.50" y1="785.60" x2="227.50" y2="1006.70" stroke="#2a2a2a" stroke-width="1.2" />
<line x1="521.50" y1="785.60" x2="521.50" y2="1006.70" stroke="#2a2a2a" stroke-width="1.2" />
<line x1="606.50" y1="785.60" x2="606.50" y2="1006.70" stroke="#2a2a2a" stroke-width="1.2" />
<line x1="6.70" y1="808.50" x2="731.00" y2="808.50" stroke="#2a2a2a" stroke-width="1.2" />
<line x1="6.70" y1="879.50" x2="731.00" y2="879.50" stroke="#2a2a2a" stroke-width="1.2" />
<line x1="6.70" y1="923.50" x2="731.00" y2="923.50" stroke="#2a2a2a" stroke-width="1.2" />
<line x1="6.70" y1="968.50" x2="731.00" y2="968.50" stroke="#2a2a2a" stroke-width="1.2" />
<text xml:space="preserve" x="8.90" y="766.00" font-size="11.6" text-anchor="start" font-weight="normal" fill="#111">Nom. size</text>
<text xml:space="preserve" x="111.40" y="766.00" font-size="11.6" text-anchor="start" font-weight="normal" fill="#111" textLength="146.00" lengthAdjust="spacingAndGlyphs">Shaft design „<tspan font-weight="bold">K</tspan> “ (key shaft)</text>
<text xml:space="preserve" x="360.50" y="766.00" font-size="11.6" text-anchor="start" font-weight="normal" fill="#111">Shaft design „<tspan font-weight="bold">S</tspan>“</text>
<text xml:space="preserve" x="360.50" y="780.50" font-size="11.6" text-anchor="start" font-weight="normal" fill="#111">(spline shaft)</text>
<text xml:space="preserve" x="502.00" y="766.00" font-size="11.6" text-anchor="start" font-weight="normal" fill="#111" textLength="155.70" lengthAdjust="spacingAndGlyphs">Suction/ Pressure port coding</text>
<text xml:space="preserve" x="97.50" y="795.60" font-size="11.6" text-anchor="middle" font-weight="normal" fill="#111">Ød</text>
<text xml:space="preserve" x="119.50" y="795.60" font-size="11.6" text-anchor="start" font-weight="normal" fill="#111">h</text>
<text xml:space="preserve" x="188.00" y="795.60" font-size="11.6" text-anchor="middle" font-weight="normal" fill="#111">g<tspan font-size="8.4" dy="3">2</tspan><tspan dy="-3"></tspan></text>
<text xml:space="preserve" x="293.40" y="795.60" font-size="11.6" text-anchor="middle" font-weight="normal" fill="#111">K</text>
<text xml:space="preserve" x="421.00" y="795.60" font-size="11.6" text-anchor="middle" font-weight="normal" fill="#111">W</text>
<text xml:space="preserve" x="502.60" y="795.60" font-size="11.6" text-anchor="middle" font-weight="bold" fill="#111">4</text>
<text xml:space="preserve" x="563.80" y="795.60" font-size="11.6" text-anchor="middle" font-weight="bold" fill="#111">4 UNF</text>
<text xml:space="preserve" x="677.90" y="795.60" font-size="11.6" text-anchor="middle" font-weight="bold" fill="#111">SAE4(5)</text>
<text xml:space="preserve" x="41.60" y="824.70" font-size="11.6" text-anchor="middle" font-weight="normal" fill="#111">012</text>
<text xml:space="preserve" x="41.60" y="839.50" font-size="11.6" text-anchor="middle" font-weight="normal" fill="#111">017</text>
<text xml:space="preserve" x="41.60" y="854.30" font-size="11.6" text-anchor="middle" font-weight="normal" fill="#111">025</text>
<text xml:space="preserve" x="41.60" y="869.10" font-size="11.6" text-anchor="middle" font-weight="normal" fill="#111">034</text>
<text xml:space="preserve" x="80.00" y="839.50" font-size="11.6" text-anchor="start" font-weight="normal" fill="#111">25.4</text>
<text xml:space="preserve" x="119.50" y="839.50" font-size="11.6" text-anchor="start" font-weight="normal" fill="#111">28.1</text>
<text xml:space="preserve" x="148.50" y="839.50" font-size="11.6" text-anchor="start" font-weight="normal" fill="#111">5/16“- 18 UNC</text>
<text xml:space="preserve" x="232.60" y="839.50" font-size="11.6" text-anchor="start" font-weight="normal" fill="#111">1/4“ x 1/4“ x 1.3/16”</text>
<text xml:space="preserve" x="359.40" y="839.50" font-size="11.6" text-anchor="start" font-weight="normal" fill="#111">13T 16/32  30° Class 5</text>
<text xml:space="preserve" x="502.60" y="839.50" font-size="11.6" text-anchor="middle" font-weight="normal" fill="#111">G 3/4</text>
<text xml:space="preserve" x="527.40" y="839.50" font-size="11.6" text-anchor="start" font-weight="normal" fill="#111">1 1/16“-12 UN</text>
<text xml:space="preserve" x="80.00" y="898.90" font-size="11.6" text-anchor="start" font-weight="normal" fill="#111">31.7</text>
<text xml:space="preserve" x="119.50" y="898.90" font-size="11.6" text-anchor="start" font-weight="normal" fill="#111">35.2</text>
<text xml:space="preserve" x="148.50" y="898.90" font-size="11.6" text-anchor="start" font-weight="normal" fill="#111">3/8“- 24 UNF</text>
<text xml:space="preserve" x="232.60" y="898.90" font-size="11.6" text-anchor="start" font-weight="normal" fill="#111">5/16“ x 5/16“ x 1.1/2“</text>
<text xml:space="preserve" x="359.40" y="898.90" font-size="11.6" text-anchor="start" font-weight="normal" fill="#111">14T 12/24  30° Class 5</text>
<text xml:space="preserve" x="503.00" y="898.90" font-size="11.6" text-anchor="middle" font-weight="normal" fill="#111">-</text>
<text xml:space="preserve" x="564.30" y="898.90" font-size="11.6" text-anchor="middle" font-weight="normal" fill="#111">-</text>
<text xml:space="preserve" x="80.00" y="943.10" font-size="11.6" text-anchor="start" font-weight="normal" fill="#111">31.7</text>
<text xml:space="preserve" x="119.50" y="943.10" font-size="11.6" text-anchor="start" font-weight="normal" fill="#111">35.2</text>
<text xml:space="preserve" x="148.50" y="943.10" font-size="11.6" text-anchor="start" font-weight="normal" fill="#111">3/8“- 24 UNF</text>
<text xml:space="preserve" x="232.60" y="943.10" font-size="11.6" text-anchor="start" font-weight="normal" fill="#111">5/16“ x 5/16“ x 1.1/2“</text>
<text xml:space="preserve" x="359.40" y="943.10" font-size="11.6" text-anchor="start" font-weight="normal" fill="#111">14T 12/24  30° Class 5</text>
<text xml:space="preserve" x="503.00" y="943.10" font-size="11.6" text-anchor="middle" font-weight="normal" fill="#111">-</text>
<text xml:space="preserve" x="564.30" y="943.10" font-size="11.6" text-anchor="middle" font-weight="normal" fill="#111">-</text>
<text xml:space="preserve" x="80.00" y="987.10" font-size="11.6" text-anchor="start" font-weight="normal" fill="#111">44.45</text>
<text xml:space="preserve" x="119.50" y="987.10" font-size="11.6" text-anchor="start" font-weight="normal" fill="#111">49.3</text>
<text xml:space="preserve" x="148.50" y="987.10" font-size="11.6" text-anchor="start" font-weight="normal" fill="#111">5/8“- 18 UNF</text>
<text xml:space="preserve" x="232.60" y="987.10" font-size="11.6" text-anchor="start" font-weight="normal" fill="#111">7/16“ x 7/16“ x 2.1/8“</text>
<text xml:space="preserve" x="359.40" y="987.10" font-size="11.6" text-anchor="start" font-weight="normal" fill="#111">13T  8/16  30° Class 5</text>
<text xml:space="preserve" x="503.00" y="987.10" font-size="11.6" text-anchor="middle" font-weight="normal" fill="#111">-</text>
<text xml:space="preserve" x="564.30" y="987.10" font-size="11.6" text-anchor="middle" font-weight="normal" fill="#111">-</text>
<text xml:space="preserve" x="678.00" y="839.50" font-size="11.6" text-anchor="middle" font-weight="normal" fill="#111">-</text>
<text xml:space="preserve" x="41.60" y="898.80" font-size="11.6" text-anchor="middle" font-weight="normal" fill="#111">047</text>
<text xml:space="preserve" x="41.60" y="912.80" font-size="11.6" text-anchor="middle" font-weight="normal" fill="#111">064</text>
<text xml:space="preserve" x="41.60" y="942.80" font-size="11.6" text-anchor="middle" font-weight="normal" fill="#111">084/108</text>
<text xml:space="preserve" x="41.60" y="957.00" font-size="11.6" text-anchor="middle" font-weight="normal" fill="#111">(SAE-C)</text>
<text xml:space="preserve" x="41.60" y="987.00" font-size="11.6" text-anchor="middle" font-weight="normal" fill="#111">084/108</text>
<text xml:space="preserve" x="41.60" y="1001.30" font-size="11.6" text-anchor="middle" font-weight="normal" fill="#111">(SAE-D)</text>
<text xml:space="preserve" x="613.00" y="899.20" font-size="11.6" text-anchor="start" font-weight="normal" fill="#111">3/4“ (SAE6000 J 518)</text>
<text xml:space="preserve" x="613.00" y="912.50" font-size="11.6" text-anchor="start" font-weight="normal" fill="#111" textLength="111.00" lengthAdjust="spacingAndGlyphs">g<tspan font-size="8.4" dy="2.5">1</tspan><tspan dy="-2.5"> = 3/8“-16 UNC-2B</tspan></text>
<text xml:space="preserve" x="613.00" y="942.90" font-size="11.6" text-anchor="start" font-weight="normal" fill="#111">1“ (SAEJ 6000 J 518)</text>
<text xml:space="preserve" x="613.00" y="956.40" font-size="11.6" text-anchor="start" font-weight="normal" fill="#111" textLength="117.30" lengthAdjust="spacingAndGlyphs">g<tspan font-size="8.4" dy="2.5">1</tspan><tspan dy="-2.5"> = 7/16“-14 UNC-2B</tspan></text>
<text xml:space="preserve" x="613.00" y="985.90" font-size="11.6" text-anchor="start" font-weight="normal" fill="#111">1“ (SAE 6000 J 518)</text>
<text xml:space="preserve" x="613.00" y="999.40" font-size="11.6" text-anchor="start" font-weight="normal" fill="#111" textLength="117.30" lengthAdjust="spacingAndGlyphs">g<tspan font-size="8.4" dy="2.5">1</tspan><tspan dy="-2.5"> = 7/16“-14 UNC-2B</tspan></text>
</svg></body></html>
